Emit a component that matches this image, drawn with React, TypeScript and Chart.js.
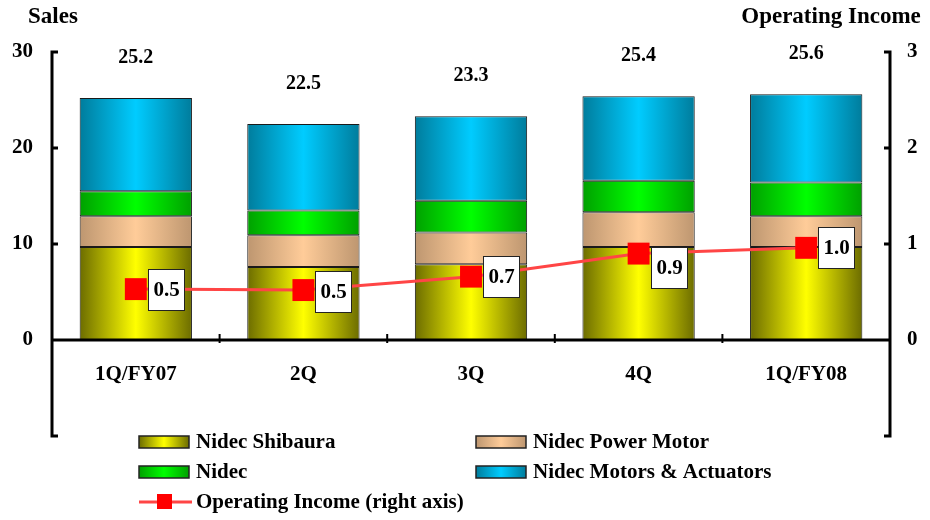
import React, { useEffect, useRef } from 'react';
import { Chart, registerables } from 'chart.js';

Chart.register(...registerables);

// ---------- data ----------
const categories = ['1Q/FY07', '2Q', '3Q', '4Q', '1Q/FY08'];
const nidecShibaura = [9.7, 7.6, 7.9, 9.7, 9.7];
const nidecPowerMotor = [3.2, 3.3, 3.3, 3.6, 3.2];
const nidecOnly = [2.6, 2.6, 3.3, 3.3, 3.5];
const nidecMotorsActuators = [9.7, 9.0, 8.8, 8.8, 9.2];
const operatingIncome = [0.53, 0.52, 0.66, 0.9, 0.96];
const salesRange = [-10, 30];
const salesStep = 10;
const incomeRange = [-1, 3];
const incomeStep = 1;

const seriesNames = [
  'Nidec Shibaura',
  'Nidec Power Motor',
  'Nidec',
  'Nidec Motors & Actuators',
  'Operating Income (right axis)',
];

// ---------- styles ----------
const FONT = '"Liberation Serif", "Times New Roman", serif';
const BAR_FRACTION = 0.67;
const palette = [
  { edge: '#6c6c00', mid: '#ffff00' },
  { edge: '#bd9670', mid: '#ffcc99' },
  { edge: '#00a000', mid: '#00ff00' },
  { edge: '#007c9c', mid: '#00ccff' },
];
const LINE_COLOR = '#ff4545';
const MARKER_COLOR = '#ff0000';

function hGrad(ctx: CanvasRenderingContext2D, x0: number, x1: number, edge: string, mid: string) {
  const g = ctx.createLinearGradient(x0, 0, x1, 0);
  g.addColorStop(0, edge);
  g.addColorStop(0.5, mid);
  g.addColorStop(1, edge);
  return g;
}

function barColor(idx: number) {
  return (c: any) => {
    const chart = c.chart;
    const area = chart.chartArea;
    const xs = chart.scales && chart.scales.x;
    if (!area || !xs || c.dataIndex == null) return palette[idx].mid;
    const cx = xs.getPixelForValue(c.dataIndex);
    const w = (area.width / categories.length) * BAR_FRACTION;
    return hGrad(chart.ctx, cx - w / 2, cx + w / 2, palette[idx].edge, palette[idx].mid);
  };
}

const labelShift = [0, 1, 0, 14, 0];

const overlayPlugin = {
  id: 'overlay',
  afterDatasetsDraw(chart: any) {
    const ctx: CanvasRenderingContext2D = chart.ctx;
    const a = chart.chartArea;
    const xs = chart.scales.x;
    const ys = chart.scales.y;
    const y1 = chart.scales.y1;
    ctx.save();

    // axes
    ctx.strokeStyle = '#000';
    ctx.lineWidth = 3;
    ctx.lineCap = 'butt';
    const lt = ys.getPixelForValue(ys.max);
    const lb = ys.getPixelForValue(ys.min);
    ctx.beginPath();
    ctx.moveTo(a.left, lt - 1.5);
    ctx.lineTo(a.left, lb + 1.5);
    ys.ticks.forEach((t: any) => {
      const p = ys.getPixelForValue(t.value);
      ctx.moveTo(a.left - 1.5, p);
      ctx.lineTo(a.left + 6, p);
    });
    const rt = y1.getPixelForValue(y1.max);
    const rb = y1.getPixelForValue(y1.min);
    ctx.moveTo(a.right, rt - 1.5);
    ctx.lineTo(a.right, rb + 1.5);
    y1.ticks.forEach((t: any) => {
      const p = y1.getPixelForValue(t.value);
      ctx.moveTo(a.right + 1.5, p);
      ctx.lineTo(a.right - 6, p);
    });
    const zy = ys.getPixelForValue(0);
    ctx.moveTo(a.left, zy);
    ctx.lineTo(a.right, zy);
    ctx.stroke();
    ctx.lineWidth = 2;
    ctx.beginPath();
    const step = a.width / categories.length;
    for (let i = 1; i < categories.length; i++) {
      const bx = xs.getPixelForValue(i) - step / 2;
      ctx.moveTo(bx, zy - 6);
      ctx.lineTo(bx, zy + 3);
    }
    ctx.stroke();

    // category labels
    ctx.fillStyle = '#000';
    ctx.font = `bold 21px ${FONT}`;
    ctx.textAlign = 'center';
    ctx.textBaseline = 'middle';
    categories.forEach((c, i) => {
      ctx.fillText(c, xs.getPixelForValue(i), zy + 35);
    });

    // totals above bars
    ctx.font = `bold 20px ${FONT}`;
    categories.forEach((_, i) => {
      const total =
        nidecShibaura[i] + nidecPowerMotor[i] + nidecOnly[i] + nidecMotorsActuators[i];
      ctx.fillText(total.toFixed(1), xs.getPixelForValue(i), ys.getPixelForValue(total) - 40);
    });

    // axis titles
    ctx.font = `bold 23px ${FONT}`;
    ctx.fillText('Sales', a.left + 1, 17);
    ctx.fillText('Operating Income', 831, 17);

    // operating income value boxes
    const meta = chart.getDatasetMeta(4);
    ctx.font = `bold 21px ${FONT}`;
    meta.data.forEach((pt: any, i: number) => {
      const txt = operatingIncome[i].toFixed(1);
      const tw = ctx.measureText(txt).width;
      const bw = Math.round(tw + 10);
      const bh = 41;
      const bx = Math.round(pt.x + 12) + 0.5;
      const by = Math.round(pt.y - bh / 2 + labelShift[i]) + 0.5;
      ctx.fillStyle = '#fff';
      ctx.fillRect(bx, by, bw, bh);
      ctx.strokeStyle = '#222';
      ctx.lineWidth = 1;
      ctx.strokeRect(bx, by, bw, bh);
      ctx.fillStyle = '#000';
      ctx.fillText(txt, bx + bw / 2, by + bh / 2 + 1);
    });

    // legend
    const cols = [139, 476];
    const rows = [442, 472, 502];
    const slots = [
      [0, 0],
      [1, 0],
      [0, 1],
      [1, 1],
      [0, 2],
    ];
    ctx.textAlign = 'left';
    ctx.font = `bold 21px ${FONT}`;
    slots.forEach(([c, r], k) => {
      const x = cols[c];
      const y = rows[r];
      if (k < 4) {
        ctx.fillStyle = hGrad(ctx, x, x + 50, palette[k].edge, palette[k].mid);
        ctx.fillRect(x, y - 6, 50, 12);
        ctx.strokeStyle = '#222';
        ctx.lineWidth = 1.5;
        ctx.strokeRect(x, y - 6, 50, 12);
      } else {
        ctx.strokeStyle = LINE_COLOR;
        ctx.lineWidth = 3;
        ctx.beginPath();
        ctx.moveTo(x, y);
        ctx.lineTo(x + 53, y);
        ctx.stroke();
        ctx.fillStyle = MARKER_COLOR;
        ctx.fillRect(x + 18, y - 8, 15, 15);
      }
      ctx.fillStyle = '#000';
      ctx.fillText(seriesNames[k], x + 57, y + 1);
    });

    ctx.restore();
  },
};

export default function App() {
  const ref = useRef<HTMLCanvasElement | null>(null);

  useEffect(() => {
    if (!ref.current) return;
    const barDs = (data: number[], idx: number) => ({
      type: 'bar' as const,
      label: seriesNames[idx],
      data,
      yAxisID: 'y',
      backgroundColor: barColor(idx),
      borderColor: '#1a1a1a',
      borderWidth: 1,
      borderSkipped: false,
      categoryPercentage: 1,
      barPercentage: BAR_FRACTION,
      order: 1,
    });
    const chart = new Chart(ref.current, {
      type: 'bar',
      data: {
        labels: categories,
        datasets: [
          barDs(nidecShibaura, 0),
          barDs(nidecPowerMotor, 1),
          barDs(nidecOnly, 2),
          barDs(nidecMotorsActuators, 3),
          {
            type: 'line' as const,
            label: seriesNames[4],
            data: operatingIncome,
            yAxisID: 'y1',
            borderColor: LINE_COLOR,
            borderWidth: 3,
            tension: 0,
            pointStyle: 'rect',
            pointRadius: 15.5,
            pointHoverRadius: 15.5,
            pointBackgroundColor: MARKER_COLOR,
            pointBorderColor: MARKER_COLOR,
            pointBorderWidth: 0,
            clip: false,
            order: 0,
          } as any,
        ],
      },
      options: {
        responsive: false,
        animation: false,
        devicePixelRatio: 1,
        events: [],
        layout: { padding: { top: 52, bottom: 84, left: 0, right: 0 } },
        plugins: {
          legend: { display: false },
          tooltip: { enabled: false },
          title: { display: false },
        },
        scales: {
          x: {
            display: false,
            stacked: true,
            offset: true,
          },
          y: {
            type: 'linear',
            position: 'left',
            stacked: true,
            min: salesRange[0],
            max: salesRange[1],
            grid: { display: false, drawTicks: false },
            border: { display: false },
            ticks: {
              stepSize: salesStep,
              padding: 19,
              color: '#000',
              font: { family: FONT, size: 21, weight: 'bold' },
              callback: (v: any) => (Number(v) < 0 ? '' : String(v)),
            },
            afterFit: (s: any) => {
              s.width = 52;
            },
          },
          y1: {
            type: 'linear',
            position: 'right',
            stacked: false,
            min: incomeRange[0],
            max: incomeRange[1],
            grid: { display: false, drawTicks: false },
            border: { display: false },
            ticks: {
              stepSize: incomeStep,
              padding: 17,
              color: '#000',
              font: { family: FONT, size: 21, weight: 'bold' },
              callback: (v: any) => (Number(v) < 0 ? '' : String(v)),
            },
            afterFit: (s: any) => {
              s.width = 40;
            },
          },
        },
      } as any,
      plugins: [overlayPlugin],
    });
    return () => chart.destroy();
  }, []);

  return (
    <div style={{ position: 'fixed', left: 0, top: 0, width: 930, height: 520, background: '#fff' }}>
      <canvas ref={ref} width={930} height={520} style={{ width: 930, height: 520, display: 'block' }} />
    </div>
  );
}
